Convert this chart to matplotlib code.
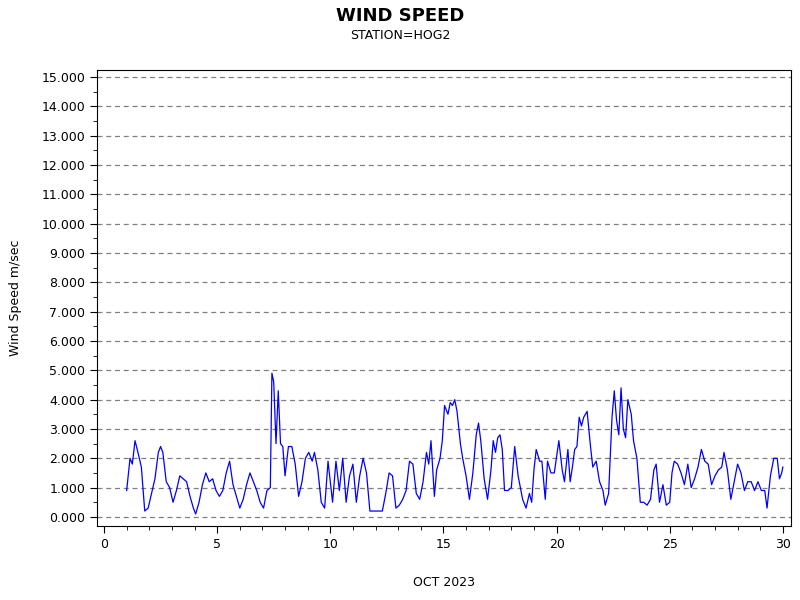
import numpy as np
import matplotlib.pyplot as plt
from matplotlib.ticker import MultipleLocator, FormatStrFormatter

# day of month (fractional) and wind speed
days = [1.0, 1.15, 1.25, 1.37, 1.5, 1.65, 1.8, 1.95, 2.1, 2.25, 2.4, 2.5, 2.6, 2.75, 2.9,
        3.05, 3.2, 3.35, 3.5, 3.65, 3.8, 3.95, 4.05, 4.2, 4.35, 4.5, 4.65, 4.8, 4.95,
        5.1, 5.25, 5.4, 5.55, 5.7, 5.85, 6.0, 6.15, 6.3, 6.45, 6.6, 6.75, 6.9,
        7.05, 7.2, 7.35, 7.42, 7.5, 7.6, 7.7, 7.8, 7.9, 8.0, 8.15, 8.3, 8.45, 8.6, 8.75, 8.9,
        9.05, 9.2, 9.3, 9.45, 9.6, 9.75, 9.9, 10.1, 10.25, 10.4, 10.55, 10.7, 10.85,
        11.0, 11.15, 11.3, 11.45, 11.6, 11.75, 11.9, 12.1, 12.3, 12.45, 12.6, 12.75, 12.9,
        13.05, 13.2, 13.35, 13.5, 13.65, 13.8, 13.95, 14.1, 14.25, 14.35, 14.45, 14.6, 14.7,
        14.85, 14.95, 15.05, 15.2, 15.3, 15.4, 15.5, 15.6, 15.75, 15.85, 16.0, 16.15, 16.3,
        16.45, 16.55, 16.65, 16.8, 16.95, 17.1, 17.2, 17.3, 17.4, 17.5, 17.6, 17.7, 17.85,
        18.0, 18.15, 18.3, 18.4, 18.5, 18.65, 18.8, 18.9, 19.0, 19.1, 19.25, 19.35, 19.5,
        19.6, 19.75, 19.9, 20.1, 20.25, 20.35, 20.5, 20.6, 20.7, 20.8, 20.9, 21.0, 21.1,
        21.2, 21.35, 21.5, 21.6, 21.75, 21.9, 22.05, 22.15, 22.3, 22.45, 22.55, 22.65, 22.75,
        22.85, 22.95, 23.05, 23.15, 23.3, 23.4, 23.55, 23.7, 23.85, 24.0, 24.15, 24.3, 24.4,
        24.55, 24.7, 24.85, 25.0, 25.1, 25.2, 25.35, 25.5, 25.65, 25.8, 25.95, 26.1, 26.25,
        26.4, 26.55, 26.7, 26.85, 27.0, 27.15, 27.3, 27.4, 27.55, 27.7, 27.85, 28.0, 28.15,
        28.3, 28.45, 28.6, 28.75, 28.9, 29.05, 29.2, 29.3, 29.45, 29.6, 29.75, 29.85, 29.95, 30.0]
speed = [0.9, 2.0, 1.8, 2.6, 2.2, 1.7, 0.2, 0.3, 0.8, 1.3, 2.2, 2.4, 2.2, 1.2, 1.0,
         0.5, 0.9, 1.4, 1.3, 1.2, 0.7, 0.3, 0.1, 0.5, 1.1, 1.5, 1.2, 1.3, 0.9,
         0.7, 0.9, 1.5, 1.9, 1.1, 0.7, 0.3, 0.6, 1.1, 1.5, 1.2, 0.9, 0.5,
         0.3, 0.9, 1.0, 4.9, 4.6, 2.5, 4.3, 2.5, 2.4, 1.4, 2.4, 2.4, 1.8, 0.7, 1.2, 2.0,
         2.2, 1.9, 2.2, 1.6, 0.5, 0.3, 1.9, 0.5, 1.9, 0.9, 2.0, 0.5, 1.4,
         1.8, 0.5, 1.4, 2.0, 1.5, 0.2, 0.2, 0.2, 0.2, 0.8, 1.5, 1.4, 0.3,
         0.4, 0.6, 0.9, 1.9, 1.8, 0.8, 0.6, 1.2, 2.2, 1.8, 2.6, 0.7, 1.6,
         2.0, 2.6, 3.8, 3.5, 3.9, 3.8, 4.0, 3.6, 2.5, 2.0, 1.4, 0.6, 1.5,
         2.8, 3.2, 2.6, 1.3, 0.6, 1.6, 2.6, 2.2, 2.7, 2.8, 2.3, 0.9, 0.9,
         1.0, 2.4, 1.4, 1.0, 0.6, 0.3, 0.8, 0.5, 1.6, 2.3, 1.9, 1.9, 0.6,
         1.9, 1.5, 1.5, 2.6, 1.6, 1.2, 2.3, 1.2, 1.7, 2.3, 2.4, 3.4, 3.1,
         3.4, 3.6, 2.4, 1.7, 1.9, 1.2, 0.9, 0.4, 0.8, 3.4, 4.3, 3.3, 2.8,
         4.4, 3.0, 2.7, 4.0, 3.5, 2.6, 2.0, 0.5, 0.5, 0.4, 0.6, 1.6, 1.8,
         0.5, 1.1, 0.4, 0.5, 1.5, 1.9, 1.8, 1.5, 1.1, 1.8, 1.0, 1.3, 1.7,
         2.3, 1.9, 1.8, 1.1, 1.4, 1.6, 1.7, 2.2, 1.6, 0.6, 1.2, 1.8, 1.5,
         0.9, 1.2, 1.2, 0.9, 1.2, 0.9, 0.9, 0.3, 1.4, 2.0, 2.0, 1.3, 1.5, 1.7]

fig = plt.figure(figsize=(8, 6), dpi=100)
ax = fig.add_axes([97/800, 74/600, 694/800, 456/600])
ax.plot(days, speed, color='blue', lw=0.9)

ax.set_xlim(-0.31, 30.36)
ax.set_ylim(-0.31, 15.24)
ax.yaxis.set_major_locator(MultipleLocator(1))
ax.yaxis.set_minor_locator(MultipleLocator(0.5))
ax.yaxis.set_major_formatter(FormatStrFormatter('%.3f'))
ax.xaxis.set_major_locator(MultipleLocator(5))
ax.xaxis.set_minor_locator(MultipleLocator(1))
ax.tick_params(labelsize=9, length=5)
ax.tick_params(which='minor', length=3)
ax.grid(axis='y', which='major', linestyle=(0, (4, 3)), color='gray', lw=0.9)

ax.set_xlabel('OCT 2023', fontsize=9, labelpad=18)
ax.set_ylabel('Wind Speed m/sec', fontsize=9, labelpad=14)
fig.text(0.5, 0.965, 'WIND SPEED', ha='center', fontsize=13, fontweight='bold')
fig.text(0.5, 0.935, 'STATION=HOG2', ha='center', fontsize=9)

fig.savefig('out.png')
